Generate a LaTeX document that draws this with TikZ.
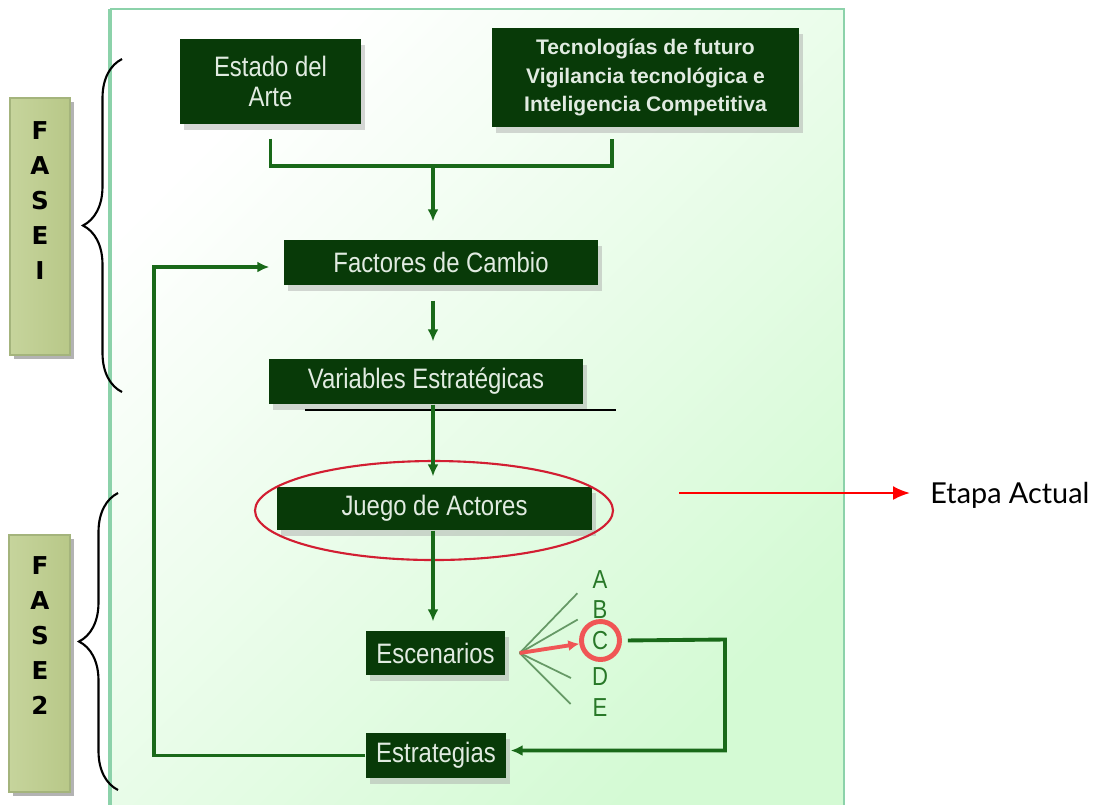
\documentclass[tikz,border=0pt]{standalone}
\usepackage{fontspec}
\setmainfont{Liberation Sans}
\newfontfamily\boxfont[FakeStretch=0.85]{Liberation Sans}
\newfontfamily\fasefont{DejaVu Sans}
\newfontfamily\etapafont{Lato}
\usetikzlibrary{arrows.meta,shapes.geometric,shadows,decorations.pathreplacing,calc}

\begin{document}
\begin{tikzpicture}
    \definecolor{boxgreen}{RGB}{8,58,8}
    \definecolor{boxtext}{RGB}{225,235,225}
    \definecolor{linkgreen}{RGB}{25,105,25}
    \definecolor{lettergreen}{RGB}{40,120,40}
    \definecolor{panelline}{RGB}{140,210,170}
    \definecolor{panelgreen}{RGB}{212,250,212}
    \definecolor{faseedge}{RGB}{198,212,156}
    \definecolor{faselight}{RGB}{232,238,214}
    \definecolor{fasedark}{RGB}{184,200,136}
    \definecolor{faseline}{RGB}{164,180,124}
    \definecolor{ringred}{RGB}{240,85,85}
    \definecolor{ovalred}{RGB}{210,30,50}

    \tikzset{
        stage/.style={fill=boxgreen, text=boxtext, align=center, inner sep=0pt,
            font=\boxfont\fontsize{8}{8.6}\selectfont,
            drop shadow={shadow xshift=0.04cm, shadow yshift=-0.06cm, fill=gray!70, opacity=0.45}},
        link/.style={linkgreen, line width=1.1pt},
        arrowlink/.style={link, -{Latex[length=1.2mm,width=1.1mm]}},
        fasebox/.style={draw=faseline, line width=0.5pt, left color=faseedge,
            middle color=faselight, right color=fasedark,
            drop shadow={shadow xshift=0.04cm, shadow yshift=-0.04cm, fill=gray, opacity=0.6}},
        fasetext/.style={inner sep=0pt, align=center,
            font=\fasefont\bfseries\fontsize{7}{9.96}\selectfont},
        phasebrace/.style={decorate, decoration={brace, amplitude=0.39cm}, line width=0.6pt},
        scen/.style={text=lettergreen, inner sep=0pt, font=\boxfont\fontsize{7.4}{8}\selectfont},
        fanline/.style={gray!80!green, line width=0.5pt}
    }

    \useasboundingbox (0,0) rectangle (11.02,-8.04);

    % panel
    \shade[top color=white, bottom color=panelgreen, shading angle=45]
        (1.10,-0.09) rectangle (8.44,-8.10);
    \draw[panelline, line width=0.75pt]
        (1.10,-0.09) -- (8.44,-0.09) -- (8.44,-8.10);
    \draw[panelline, line width=1pt] (1.10,-8.10) -- (1.10,-0.09);

    % phases
    \node[fasebox, minimum width=0.60cm, minimum height=2.57cm] (fase1) at (0.40,-2.265) {};
    \node[fasetext, anchor=north] (fase1txt) at (0.40,-1.21) {F\\A\\S\\E\\I};
    \node[fasebox, minimum width=0.61cm, minimum height=2.57cm] (fase2) at (0.395,-6.635) {};
    \node[fasetext, anchor=north] (fase2txt) at (0.40,-5.56) {F\\A\\S\\E\\2};

    \draw[phasebrace] (1.22,-3.92) -- (1.22,-0.59);
    \draw[phasebrace] (1.18,-7.90) -- (1.18,-4.93);

    % boxes
    \node[stage, minimum width=1.81cm, minimum height=0.85cm] (arte) at (2.705,-0.815)
        {Estado del\\Arte};
    \node[stage, font=\bfseries\fontsize{6}{8}\selectfont,
        minimum width=3.07cm, minimum height=0.99cm] (tecno) at (6.455,-0.775)
        {Tecnologías de futuro\\Vigilancia tecnológica e\\Inteligencia Competitiva};
    \node[stage, minimum width=3.14cm, minimum height=0.45cm] (factores) at (4.41,-2.625)
        {Factores de Cambio};
    \node[stage, minimum width=3.14cm, minimum height=0.45cm] (variables) at (4.26,-3.815)
        {Variables Estratégicas};
    \node[stage, minimum width=3.15cm, minimum height=0.43cm] (juego) at (4.345,-5.085)
        {Juego de Actores};
    \node[stage, minimum width=1.39cm, minimum height=0.44cm] (escenarios) at (4.355,-6.53)
        {Escenarios};
    \node[stage, minimum width=1.40cm, minimum height=0.45cm] (estrategias) at (4.36,-7.555)
        {Estrategias};

    % current stage
    \node[ellipse, draw=ovalred, line width=0.6pt, minimum width=3.58cm,
        minimum height=0.99cm] (actual) at (4.34,-5.105) {};
    \draw[black, line width=0.5pt] ($(variables.south west)+(0.37,-0.05)$) -- ++(3.11,0);

    % links
    \coordinate (join) at (4.33,-1.66);
    \draw[link, shorten <=0.14cm, shorten >=0.11cm]
        (arte.south) |- (join) -| ([xshift=-0.335cm]tecno.south);
    \draw[arrowlink, shorten >=0.18cm] (join) -- (join |- factores.north);
    \draw[arrowlink, shorten <=0.15cm, shorten >=0.17cm]
        (factores.south -| join) -- (variables.north -| join);
    \draw[arrowlink, shorten >=0.10cm] (variables.south -| join) -- (juego.north -| join);
    \draw[arrowlink, shorten >=0.09cm] (juego.south -| join) -- (escenarios.north -| join);

    % scenarios
    \foreach \l/\y in {A/5.80,B/6.10,C/6.41,D/6.77,E/7.08}
        \node[scen] (l\l) at (6.00,-\y) {\l};
    \node[circle, draw=ringred, line width=1.4pt, minimum size=0.38cm] (cring) at (6.005,-6.405) {};

    \coordinate (fan) at ($(escenarios.east)+(0.14,0)$);
    \foreach \a/\r in {46/0.83,30/0.67,-26/0.57,-45/0.72}
        \draw[fanline] (fan) -- ++(\a:\r);
    \draw[ringred, line width=1.1pt, -{Latex[length=1.1mm,width=1.1mm]}] (fan) -- (cring);

    \coordinate (turn) at (7.25,-6.395);
    \draw[arrowlink, shorten <=0.06cm, shorten >=0.04cm]
        (cring.east) -- (turn) |- ([yshift=0.05cm]estrategias.east);
    \draw[arrowlink, shorten >=0.14cm]
        (estrategias.west) -| ([xshift=-1.29cm,yshift=-0.045cm]factores.west)
        -- ([yshift=-0.045cm]factores.west);

    % label
    \coordinate (etapafrom) at (6.79,-4.93);
    \node[anchor=west, font=\etapafont\fontsize{8.2}{10}\selectfont] (etapa) at (9.18,-4.95)
        {Etapa Actual};
    \draw[red, line width=0.6pt, -{Latex[length=1.7mm,width=1.4mm]}, shorten >=0.08cm]
        (etapafrom) -- (etapa.west |- etapafrom);
\end{tikzpicture}
\end{document}
